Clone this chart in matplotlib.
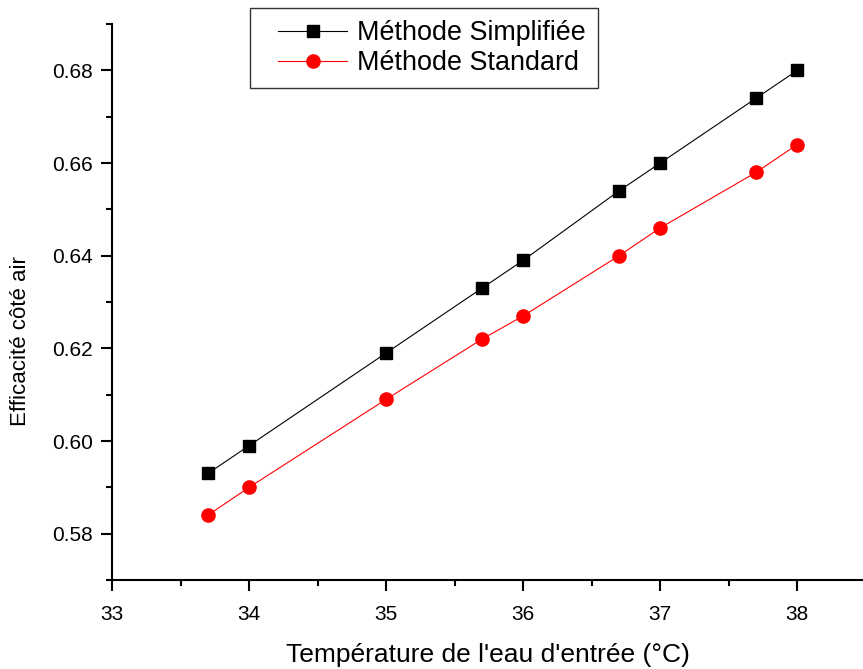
import matplotlib
matplotlib.use("Agg")
import matplotlib.pyplot as plt
from matplotlib.ticker import MultipleLocator
from matplotlib.lines import Line2D
from matplotlib.legend_handler import HandlerLine2D

plt.rcParams['font.family'] = ['Liberation Sans', 'DejaVu Sans']

# donnees
temp = [33.7, 34.0, 35.0, 35.7, 36.0, 36.7, 37.0, 37.7, 38.0]
eff_simplifiee = [0.593, 0.599, 0.619, 0.633, 0.639, 0.654, 0.660, 0.674, 0.680]
eff_standard = [0.584, 0.590, 0.609, 0.622, 0.627, 0.640, 0.646, 0.658, 0.664]

fig = plt.figure(figsize=(8.63, 6.69), dpi=100)
ax = fig.add_axes([0.1298, 0.133, 0.8702, 0.831])

ax.plot(temp, eff_simplifiee, color='black', lw=0.8, marker='s', ms=8,
        mfc='black', mec='black', label='Méthode Simplifiée')
ax.plot(temp, eff_standard, color='red', lw=0.8, marker='o', ms=9.5,
        mfc='red', mec='red', label='Méthode Standard')

ax.set_xlim(33, 38.48)
ax.set_ylim(0.57, 0.69)
ax.xaxis.set_major_locator(MultipleLocator(1))
ax.xaxis.set_minor_locator(MultipleLocator(0.5))
ax.yaxis.set_major_locator(MultipleLocator(0.02))
ax.yaxis.set_minor_locator(MultipleLocator(0.01))
ax.yaxis.set_major_formatter(plt.FuncFormatter(lambda v, p: f"{v:.2f}"))

for s in ['top', 'right']:
    ax.spines[s].set_visible(False)
for s in ['left', 'bottom']:
    ax.spines[s].set_linewidth(1.5)

ax.tick_params(which='major', direction='out', length=8, width=1.5, labelsize=15, pad=6)
ax.tick_params(axis='x', which='major', pad=10)
ax.tick_params(which='minor', direction='out', length=4, width=1.5)

ax.set_xlabel("Température de l'eau d'entrée (°C)", fontsize=19, labelpad=14)
ax.set_ylabel("Efficacité côté air", fontsize=16)
ax.yaxis.set_label_coords(-0.108, 0.43)

# poignee de legende decalee vers la droite comme sur l'original
leg = ax.legend(loc='upper left', bbox_to_anchor=(0.184, 1.029), fontsize=19.4,
                frameon=True, fancybox=False, edgecolor='black', handlelength=3.15,
                borderpad=0.45, labelspacing=0.15, handletextpad=0.37, borderaxespad=0,
                handler_map={Line2D: HandlerLine2D(xpad=0.6)})
leg.get_frame().set_linewidth(1.0)

fig.savefig('out.png', dpi=100)
